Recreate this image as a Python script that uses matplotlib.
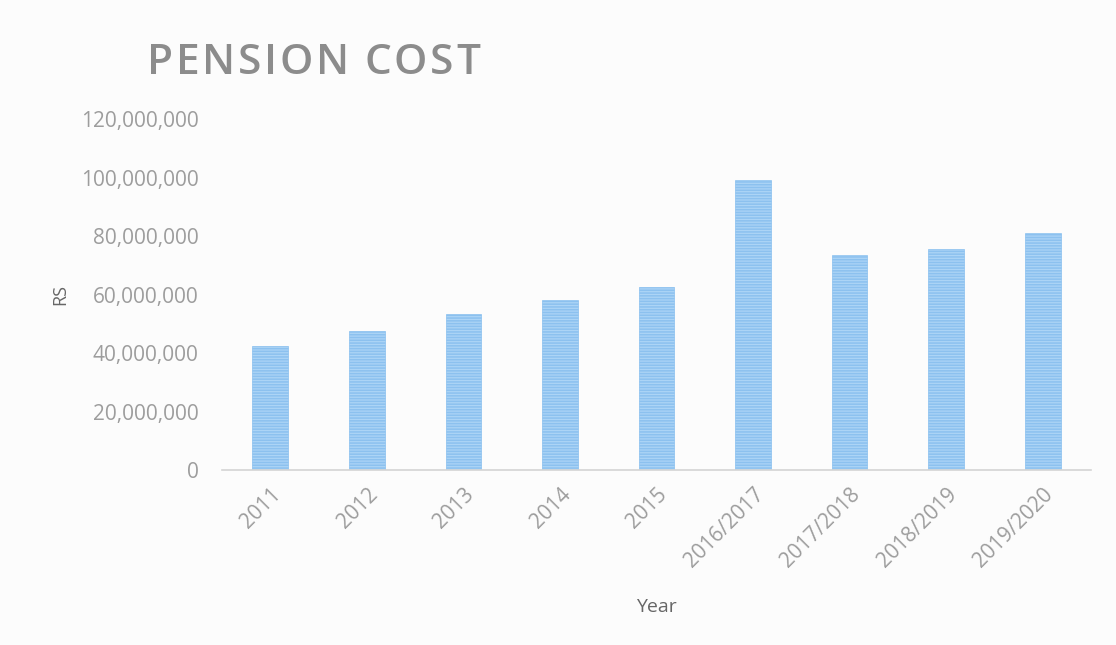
import numpy as np
import matplotlib.pyplot as plt
from matplotlib.ticker import FuncFormatter

plt.rcParams['font.family'] = ['Open Sans', 'DejaVu Sans']
plt.rcParams['hatch.color'] = '#5da6e6'
plt.rcParams['hatch.linewidth'] = 1.1

years = ['2011', '2012', '2013', '2014', '2015',
         '2016/2017', '2017/2018', '2018/2019', '2019/2020']
cost = [42300000, 47400000, 53500000, 58000000, 62400000,
        99200000, 73600000, 75700000, 81100000]

title = 'PENSION COST'

fig = plt.figure(figsize=(11.16, 6.45), dpi=100, facecolor='#fcfcfc')
ax = fig.add_axes([0.199, 0.2713, 0.7786, 0.5442])
ax.set_facecolor('#fcfcfc')

x = np.arange(len(years))
ax.bar(x, cost, width=0.37, color='#acd4f6', edgecolor='#8cc1ef',
       linewidth=0.5, hatch='------')

ax.set_xlim(-0.5, len(years) - 0.5)
ax.set_ylim(0, 120000000)
ax.set_yticks(np.arange(0, 120000001, 20000000))
ax.yaxis.set_major_formatter(FuncFormatter(lambda v, p: f'{int(v):,}'))
ax.set_xticks(x)
ax.set_xticklabels(years, rotation=45, ha='right', va='top',
                   rotation_mode='anchor')

for s in ['top', 'right', 'left']:
    ax.spines[s].set_visible(False)
ax.spines['bottom'].set_color('#d4d4d4')
ax.spines['bottom'].set_linewidth(1.2)
ax.tick_params(axis='y', length=0, pad=17, labelsize=15, labelcolor='#9d9d9d')
ax.tick_params(axis='x', length=0, pad=10, labelsize=15, labelcolor='#9d9d9d')

ax.set_xlabel('Year', fontsize=14, color='#666666')
ax.xaxis.set_label_coords(0.5, -0.365)
ax.set_ylabel('RS', fontsize=13, color='#666666')
ax.yaxis.set_label_coords(-0.176, 0.5)

# letter-spaced title, one glyph at a time
fig.canvas.draw()
renderer = fig.canvas.get_renderer()
left_px, right_px = 147, 480
glyphs = []
for ch in title:
    t = fig.text(0, 0.903, ch, fontsize=30.5, fontweight='semibold',
                 color='#8c8c8c', ha='left', va='center')
    w = t.get_window_extent(renderer).width if ch != ' ' else 0
    glyphs.append((t, ch, w))
space_w = 10
natural = sum(w for _, ch, w in glyphs) + space_w
gap = (right_px - left_px - natural) / (len(title) - 1)
pos = left_px
for t, ch, w in glyphs:
    t.set_x(pos / fig.bbox.width)
    pos += (w if ch != ' ' else space_w) + gap

fig.savefig('out.png', dpi=100, facecolor=fig.get_facecolor())
